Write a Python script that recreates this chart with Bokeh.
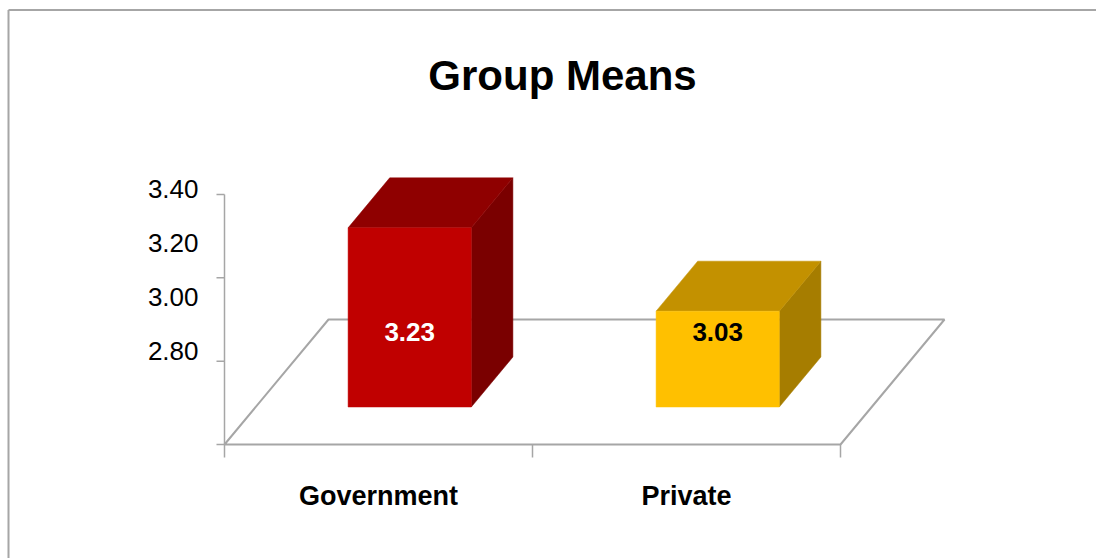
from bokeh.plotting import figure
from bokeh.models import Range1d
from bokeh.core.properties import value
from bokeh.embed import file_html
from bokeh.resources import INLINE

# ---- data ----
title_text = "Group Means"
categories = ["Government", "Private"]
means = [3.23, 3.03]
value_labels = ["3.23", "3.03"]
y_ticks = [2.80, 3.00, 3.20, 3.40]
y_tick_labels = ["2.80", "3.00", "3.20", "3.40"]

# ---- styles ----
front_colors = ["#C00000", "#FFC000"]
top_colors = ["#8F0000", "#C39100"]
side_colors = ["#7A0000", "#A67D00"]
label_colors = ["#FFFFFF", "#000000"]
GRID = "#A6A6A6"
FONT = "Liberation Sans"

W, H = 1096, 558
p = figure(width=W, height=H, x_range=Range1d(0, W), y_range=Range1d(H, 0),
           output_backend="svg", toolbar_location=None, min_border=0)
p.axis.visible = False
p.grid.visible = False
p.outline_line_color = None
p.background_fill_color = "white"
p.border_fill_color = "white"

# ---- oblique 3D projection (category units, value, depth 0..1) ----
X0, Y0 = 224, 444
CAT_W = 308
V_BASE = y_ticks[0]
V_TOP = y_ticks[-1]
VAL_PX = 250 / (V_TOP - V_BASE)
DX, DY = 104, -125
N = len(categories)


def proj(c, v, d):
    return (X0 + c * CAT_W + d * DX, Y0 - (v - V_BASE) * VAL_PX + d * DY)


# chart border
p.multi_line(xs=[[8, 8], [8, W + 5]], ys=[[H + 5, 9.5], [9.5, 9.5]],
             line_color=GRID, line_width=2)

# floor
corners = [proj(0, V_BASE, 0), proj(N, V_BASE, 0), proj(N, V_BASE, 1), proj(0, V_BASE, 1)]
p.patch([c[0] for c in corners], [c[1] for c in corners],
        fill_color=None, line_color=GRID, line_width=2)

# value axis
ax0 = proj(0, V_BASE, 0)
ax1 = proj(0, V_TOP, 0)
p.line([ax0[0], ax1[0]], [ax0[1], ax1[1]], line_color=GRID, line_width=1.5)
tx, ty = [], []
for v in y_ticks:
    x, y = proj(0, v, 0)
    tx.append([x - 8, x])
    ty.append([y, y])
p.multi_line(tx, ty, line_color=GRID, line_width=1.5)

# value tick labels (compressed spacing, as in the source image)
lab_x = [ax0[0] - 26] * len(y_ticks)
lab_y = [ax1[1] - 5.5 + (V_TOP - v) / 0.2 * 54 for v in y_ticks]
p.text(lab_x, lab_y, text=y_tick_labels, text_align="right", text_baseline="middle",
       text_font=value(FONT), text_font_size="26px", text_color="#000000")

# category ticks
cx, cy = [], []
for c in range(N + 1):
    x, y = proj(c, V_BASE, 0)
    cx.append([x, x])
    cy.append([y, y + 13])
p.multi_line(cx, cy, line_color=GRID, line_width=1.5)

# bars
HALF = 0.2
D0, D1 = 0.3, 0.7
fx, fy, tpx, tpy, sx, sy = [], [], [], [], [], []
for i, v in enumerate(means):
    c0, c1 = i + 0.5 - HALF, i + 0.5 + HALF
    front = [proj(c0, V_BASE, D0), proj(c1, V_BASE, D0), proj(c1, v, D0), proj(c0, v, D0)]
    top = [proj(c0, v, D0), proj(c1, v, D0), proj(c1, v, D1), proj(c0, v, D1)]
    side = [proj(c1, V_BASE, D0), proj(c1, V_BASE, D1), proj(c1, v, D1), proj(c1, v, D0)]
    fx.append([q[0] for q in front]); fy.append([q[1] for q in front])
    tpx.append([q[0] for q in top]); tpy.append([q[1] for q in top])
    sx.append([q[0] for q in side]); sy.append([q[1] for q in side])
p.patches(sx, sy, fill_color=side_colors, line_color=side_colors, line_width=0.5)
p.patches(tpx, tpy, fill_color=top_colors, line_color=top_colors, line_width=0.5)
p.patches(fx, fy, fill_color=front_colors, line_color=front_colors, line_width=0.5)

# data labels
dl = [proj(i + 0.5, 2.98, D0) for i in range(N)]
p.text([q[0] for q in dl], [q[1] for q in dl], text=value_labels,
       text_align="center", text_baseline="middle", text_font=value(FONT),
       text_font_size="26px", text_font_style="bold", text_color=label_colors)

# category labels
cl = [proj(i + 0.5, V_BASE, 0) for i in range(N)]
p.text([q[0] for q in cl], [q[1] + 51 for q in cl], text=categories,
       text_align="center", text_baseline="middle", text_font=value(FONT),
       text_font_size="27px", text_font_style="bold", text_color="#000000")

# title
p.text([562], [75], text=[title_text], text_align="center", text_baseline="middle",
       text_font=value(FONT), text_font_size="42px", text_font_style="bold",
       text_color="#000000")

open("out.html", "w").write(file_html(p, INLINE))
